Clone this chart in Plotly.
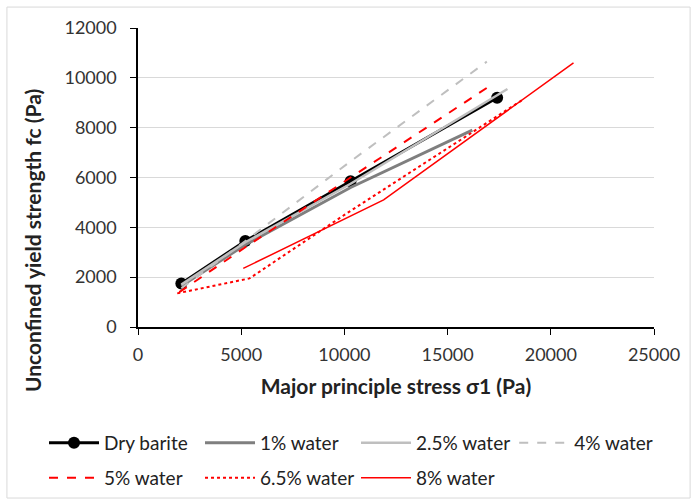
import plotly.graph_objects as go

series_names = ["Dry barite", "1% water", "2.5% water", "4% water", "5% water", "6.5% water", "8% water"]
x_dry = [2100, 5200, 10300, 17400]
y_dry = [1750, 3450, 5850, 9200]
x_w1 = [2100, 5200, 10300, 16200]
y_w1 = [1650, 3300, 5600, 7900]
x_w25 = [2100, 5200, 10300, 17900]
y_w25 = [1700, 3400, 5750, 9550]
x_w4 = [2100, 5200, 10300, 16900]
y_w4 = [1550, 3450, 6650, 10650]
x_w5 = [2000, 5200, 10300, 17000]
y_w5 = [1400, 3200, 6000, 9650]
x_w65 = [1900, 5400, 10000, 18600]
y_w65 = [1350, 1950, 4500, 9100]
x_w8 = [5100, 11900, 21100]
y_w8 = [2350, 5100, 10600]

x_ticks = [0, 5000, 10000, 15000, 20000, 25000]
y_ticks = [0, 2000, 4000, 6000, 8000, 10000, 12000]
x_title = "Major principle stress σ1 (Pa)"
y_title = "Unconfined yield strength fc (Pa)"

xs = [x_dry, x_w1, x_w25, x_w4, x_w5, x_w65, x_w8]
ys = [y_dry, y_w1, y_w25, y_w4, y_w5, y_w65, y_w8]
styles = [
    dict(color="black", width=3, dash="solid"),
    dict(color="#7f7f7f", width=3, dash="solid"),
    dict(color="#bfbfbf", width=2.5, dash="solid"),
    dict(color="#bfbfbf", width=2, dash="dash"),
    dict(color="#ff0000", width=2, dash="dash"),
    dict(color="#ff0000", width=2, dash="dot"),
    dict(color="#ff0000", width=1.5, dash="solid"),
]
legend_ids = ["legend", "legend", "legend", "legend3", "legend2", "legend2", "legend2"]

fig = go.Figure()
for i, (n, x, y, st, lg) in enumerate(zip(series_names, xs, ys, styles, legend_ids)):
    fig.add_trace(go.Scatter(
        x=x, y=y, name=n,
        mode="lines+markers" if i == 0 else "lines",
        marker=dict(size=12, color="black") if i == 0 else None,
        line=st,
        legend=lg,
    ))

font = "Lato, 'Open Sans', sans-serif"
legend_common = dict(orientation="h", xref="container", yref="container", x=0.0635, xanchor="left",
                     yanchor="middle", entrywidth=91, entrywidthmode="pixels", itemwidth=50,
                     font=dict(size=19, color="#222"), bgcolor="rgba(0,0,0,0)")
fig.update_layout(
    width=693, height=504,
    margin=dict(l=138, r=39, t=28, b=177),
    plot_bgcolor="white", paper_bgcolor="white",
    font=dict(family=font, size=18, color="#333"),
    xaxis=dict(
        range=[0, 25000], tickvals=x_ticks, ticktext=[str(v) for v in x_ticks],
        showgrid=False, showline=True, linecolor="black", linewidth=1.5,
        ticks="outside", ticklen=6, tickcolor="black", ticklabelstandoff=5,
        title=dict(text="<b>" + x_title + "</b>", font=dict(size=21, color="#222"), standoff=15),
        zeroline=False,
    ),
    yaxis=dict(
        range=[0, 12000], tickvals=y_ticks, ticktext=[str(v) for v in y_ticks],
        showgrid=True, gridcolor="#d9d9d9", gridwidth=1,
        showline=True, linecolor="black", linewidth=1.5,
        ticks="outside", ticklen=6, tickcolor="black", ticklabelstandoff=10,
        zeroline=False,
    ),
    annotations=[dict(text="<b>" + y_title + "</b>", xref="paper", yref="paper",
                      x=-0.2035, y=0.291, textangle=-90, showarrow=False,
                      font=dict(size=21, color="#222"), xanchor="center", yanchor="middle")],
    legend=dict(legend_common, y=0.121),
    legend3=dict(legend_common, x=0.742, y=0.121),
    legend2=dict(legend_common, y=0.052),
    shapes=[dict(type="rect", xref="paper", yref="paper", x0=-0.254, x1=1.07, y0=-0.572, y1=1.07,
                 line=dict(color="#d9d9d9", width=1))],
)
fig.write_html("out.html")
